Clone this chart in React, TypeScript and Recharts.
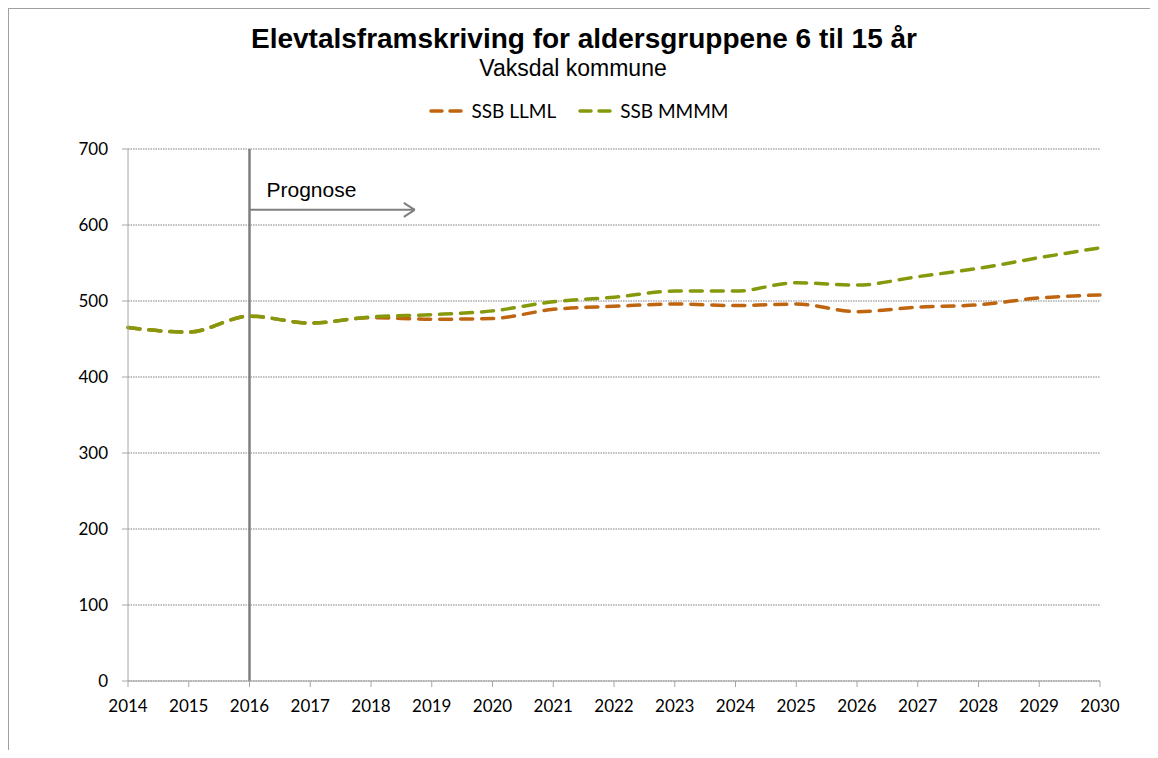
import React from "react";
import {
  LineChart,
  Line,
  XAxis,
  YAxis,
  CartesianGrid,
  ReferenceLine,
  Legend,
} from "recharts";

const years = [2014, 2015, 2016, 2017, 2018, 2019, 2020, 2021, 2022, 2023, 2024, 2025, 2026, 2027, 2028, 2029, 2030];
const llml = [465, 459, 480, 471, 478, 476, 477, 489, 493, 496, 494, 496, 486, 492, 495, 504, 508];
const mmmm = [465, 459, 480, 471, 479, 482, 487, 499, 505, 513, 513, 524, 521, 532, 543, 557, 570];
const yTicks = [0, 100, 200, 300, 400, 500, 600, 700];

const seriesNames = { llml: "SSB LLML", mmmm: "SSB MMMM" };
const colors = { llml: "#BF650F", mmmm: "#86990B" };

const title = "Elevtalsframskriving for aldersgruppene 6 til 15 år";
const subtitle = "Vaksdal kommune";
const prognoseLabel = "Prognose";
const prognoseStart = 2016;
const arrowEnd = 2018.72;
const arrowY = 620;

const data = years.map((y, i) => ({ year: y, llml: llml[i], mmmm: mmmm[i] }));

const tickFont = "Lato, 'Noto Sans', sans-serif";
const axisColor = "#A6A6A6";

const LegendContent = () => (
  <div style={{ display: "flex", justifyContent: "center", fontFamily: tickFont, fontSize: 19, color: "#000" }}>
    {(["llml", "mmmm"] as const).map((k, i) => (
      <div key={k} style={{ display: "flex", alignItems: "center", marginLeft: i ? 22 : 0 }}>
        <svg width={34} height={10} style={{ marginRight: 8 }}>
          <line x1={2} y1={5} x2={32} y2={5} stroke={colors[k]} strokeWidth={3.5} strokeDasharray="11 8" strokeLinecap="round" />
        </svg>
        <span>{seriesNames[k]}</span>
      </div>
    ))}
  </div>
);

export default function App() {
  return (
    <div style={{ position: "relative", margin: -8, width: 1158, height: 758, overflow: "hidden", background: "#fff" }}>
      <div
        style={{
          position: "absolute",
          left: 0,
          top: 22,
          width: 1168,
          textAlign: "center",
          fontFamily: "'Liberation Sans', Arial, sans-serif",
          fontWeight: "bold",
          fontSize: 28,
          lineHeight: "34px",
        }}
      >
        {title}
      </div>
      <div
        style={{
          position: "absolute",
          left: 0,
          top: 54,
          width: 1146,
          textAlign: "center",
          fontFamily: "'Liberation Sans', Arial, sans-serif",
          fontSize: 23,
          lineHeight: "28px",
        }}
      >
        {subtitle}
      </div>
      <div style={{ position: "absolute", left: 0, top: 0 }}>
        <LineChart width={1158} height={758} data={data} margin={{ top: 149, right: 58, bottom: 37, left: 68 }}>
          <CartesianGrid vertical={false} stroke="#7F7F7F" strokeDasharray="1.5 1" />
          <XAxis
            dataKey="year"
            type="number"
            domain={[2014, 2030]}
            ticks={years}
            interval={0}
            height={40}
            stroke={axisColor}
            tickSize={6}
            tick={{ fill: "#000", fontSize: 17, fontFamily: tickFont }}
            tickMargin={13}
          />
          <YAxis
            domain={[0, 700]}
            ticks={yTicks}
            width={60}
            stroke={axisColor}
            tickSize={6}
            tickMargin={14}
            tick={{ fill: "#000", fontSize: 17, fontFamily: tickFont }}
          />
          <ReferenceLine x={prognoseStart} stroke="#7F7F7F" strokeWidth={2.5} />
          <ReferenceLine
            segment={[{ x: prognoseStart, y: arrowY }, { x: arrowEnd, y: arrowY }]}
            stroke="#7F7F7F"
            strokeWidth={2}
            label={{
              value: prognoseLabel,
              position: "insideTopLeft",
              offset: 0,
              dx: 17,
              dy: -28,
              fill: "#000",
              fontSize: 21,
              fontFamily: "'Liberation Sans', Arial, sans-serif",
            }}
          />
          <ReferenceLine
            segment={[{ x: arrowEnd - 0.18, y: arrowY + 9.2 }, { x: arrowEnd, y: arrowY }]}
            stroke="#7F7F7F"
            strokeWidth={2}
          />
          <ReferenceLine
            segment={[{ x: arrowEnd - 0.18, y: arrowY - 9.2 }, { x: arrowEnd, y: arrowY }]}
            stroke="#7F7F7F"
            strokeWidth={2}
          />
          <Legend
            verticalAlign="middle"
            layout="horizontal"
            content={<LegendContent />}
            wrapperStyle={{ position: "absolute", top: 99, left: 0, width: 1158 }}
          />
          <Line
            type="monotone"
            dataKey="llml"
            name={seriesNames.llml}
            stroke={colors.llml}
            strokeWidth={3.5}
            strokeDasharray="12 9"
            strokeLinecap="round"
            dot={false}
            activeDot={false}
            isAnimationActive={false}
          />
          <Line
            type="monotone"
            dataKey="mmmm"
            name={seriesNames.mmmm}
            stroke={colors.mmmm}
            strokeWidth={3.5}
            strokeDasharray="12 9"
            strokeLinecap="round"
            dot={false}
            activeDot={false}
            isAnimationActive={false}
          />
        </LineChart>
      </div>
      <div style={{ position: "absolute", left: 6, top: 8, width: 1152, height: 1, background: "#A0A0A0", zIndex: 2 }} />
      <div style={{ position: "absolute", left: 8, top: 8, width: 1, height: 760, background: "#A0A0A0", zIndex: 2 }} />
    </div>
  );
}
